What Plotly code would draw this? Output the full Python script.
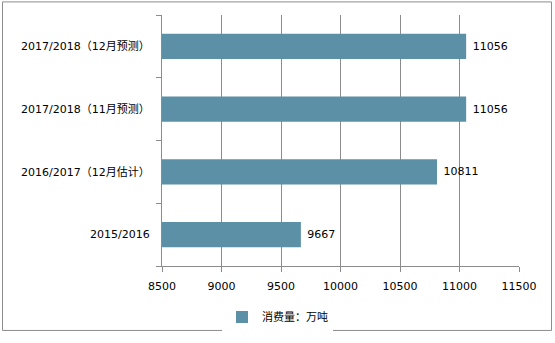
import plotly.graph_objects as go

categories = ["2015/2016", "2016/2017（12月估计）", "2017/2018（11月预测）", "2017/2018（12月预测）"]
values = [9667, 10811, 11056, 11056]
series_name = "消费量：万吨"
x_ticks = [8500, 9000, 9500, 10000, 10500, 11000, 11500]
x_tick_labels = [str(v) for v in x_ticks]

font_family = "DejaVu Sans, Noto Sans CJK SC, sans-serif"

fig = go.Figure()
fig.add_trace(go.Bar(
    y=categories, x=values, orientation="h", name=series_name,
    marker=dict(color="#5b90a6", line=dict(width=0)),
    width=0.4,
    text=[" " + str(v) for v in values], textposition="outside",
    textfont=dict(color="#000000", size=11, family=font_family),
    cliponaxis=False,
))

fig.update_layout(
    width=555, height=343,
    margin=dict(l=162, r=36, t=15, b=69),
    paper_bgcolor="white", plot_bgcolor="white",
    font=dict(family=font_family, size=11, color="#000000"),
    showlegend=True,
    legend=dict(orientation="h", x=(222 - 162) / 357, xanchor="left", y=-0.145, yanchor="top",
                font=dict(size=11, color="#000000")),
    bargap=0.6,
)
fig.update_xaxes(
    range=[8500, 11500], tickvals=x_ticks, ticktext=x_tick_labels,
    showgrid=True, gridcolor="#8c8c8c", gridwidth=1,
    showline=True, linecolor="#8c8c8c", linewidth=1, ticks="outside", ticklen=5,
    tickcolor="#8c8c8c", zeroline=False, tickfont=dict(size=11), ticklabelstandoff=5,
)
fig.update_yaxes(
    showline=True, linecolor="#8c8c8c", linewidth=1, ticks="outside", ticklen=5,
    tickcolor="#8c8c8c", tickson="boundaries", showgrid=False, tickfont=dict(size=11),
    ticklabelstandoff=9,
)
fig.add_shape(type="rect", xref="paper", yref="paper",
              x0=(2.5 - 162) / 357, x1=(551.5 - 162) / 357,
              y0=(274 - 340.5) / 259, y1=(274 - 1.5) / 259,
              line=dict(color="#8c8c8c", width=1), fillcolor="rgba(0,0,0,0)", layer="below")

fig.write_html("out.html")
